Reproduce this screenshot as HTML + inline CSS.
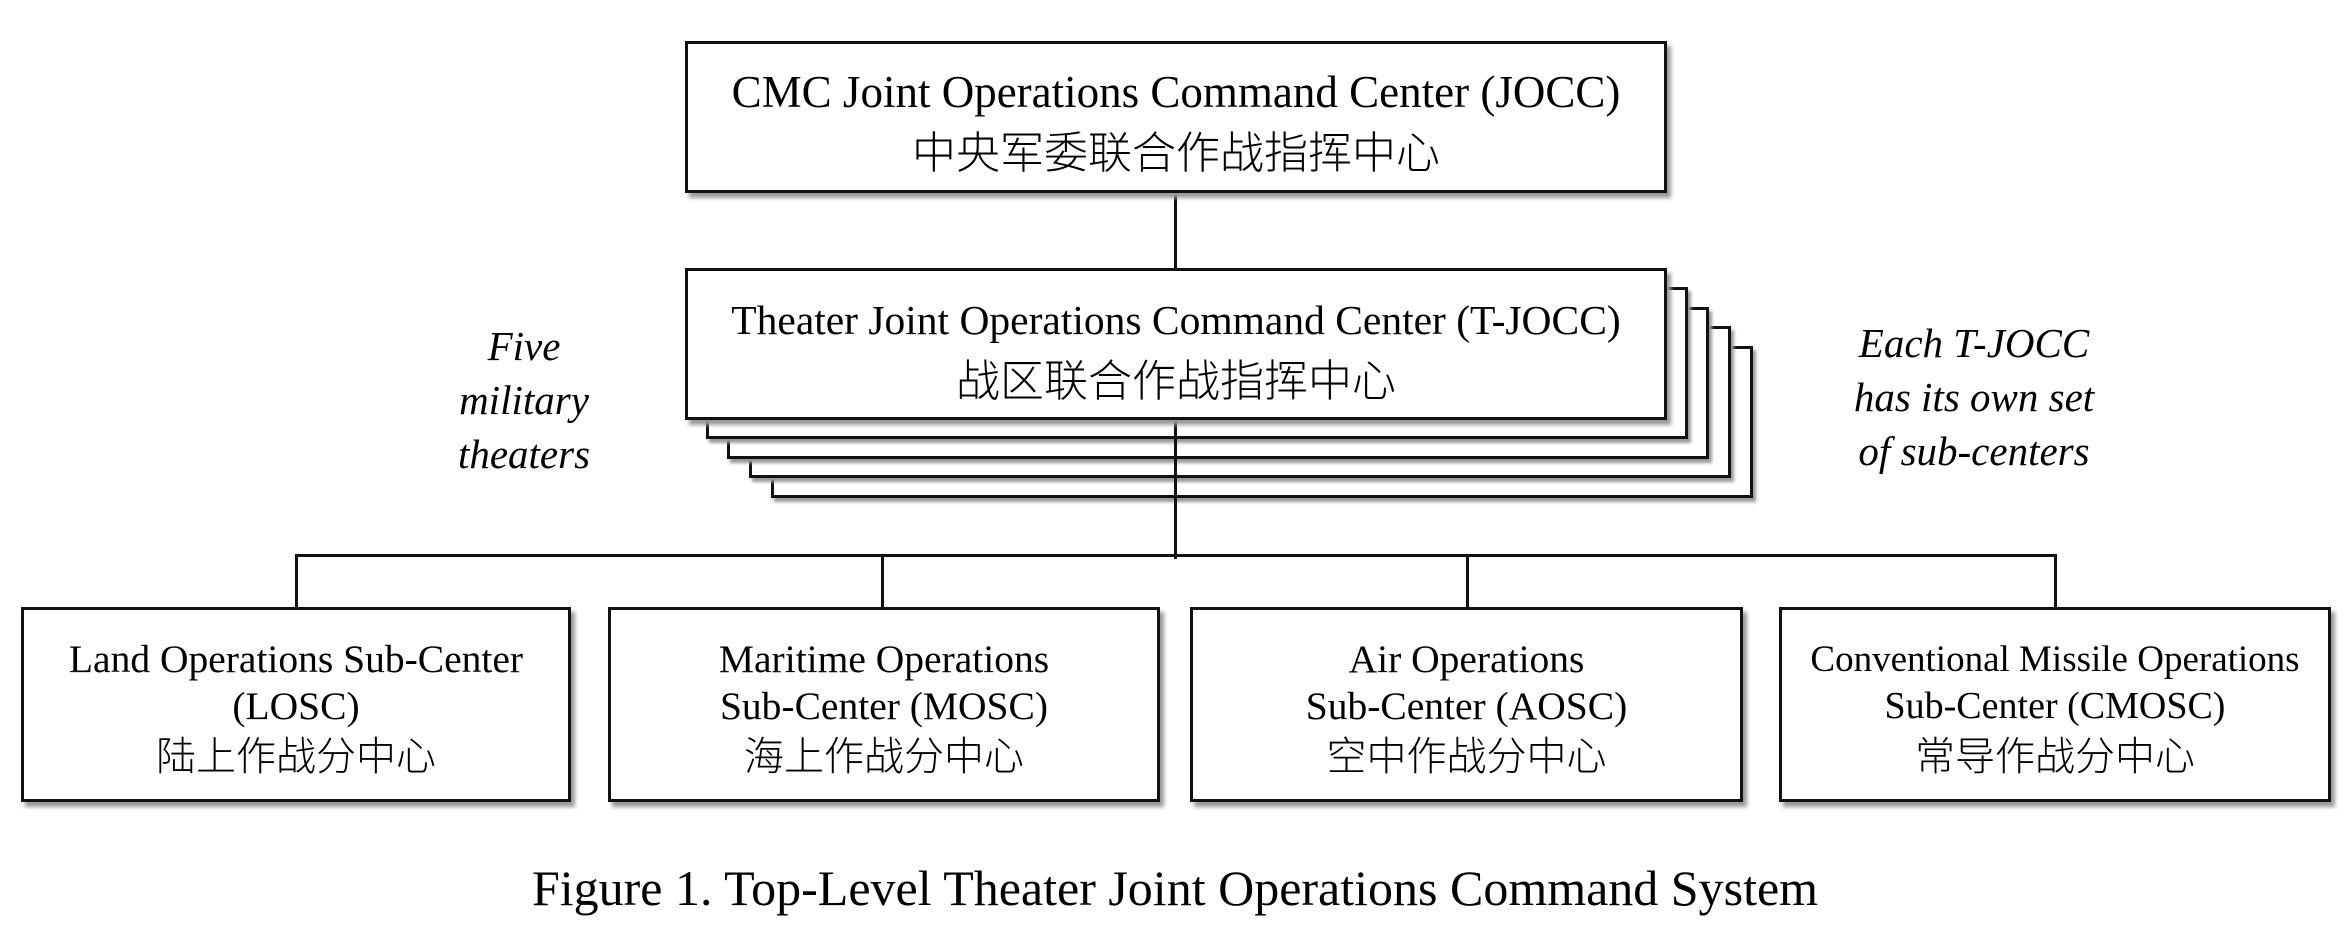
<!DOCTYPE html>
<html><head><meta charset="utf-8"><style>
body{margin:0;width:2346px;height:948px;background:#fff;position:relative;overflow:hidden;font-family:"Liberation Serif","Noto Serif CJK SC",serif;color:#000}
.b{position:absolute;box-sizing:border-box;border:3px solid #111;background:#fff;box-shadow:4px 5px 4px #999}
.t{position:absolute;text-align:center;white-space:nowrap;line-height:47px}
.l{position:absolute;background:#111}
.cj{font-family:"Noto Sans CJK SC","WenQuanYi Zen Hei",sans-serif;font-weight:300}
.i{font-style:italic;font-size:41px;line-height:54px}
</style></head><body>
<div class="l" style="left:1174px;top:190px;width:3px;height:367px"></div>
<div class="l" style="left:295px;top:554px;width:1762px;height:3px"></div>
<div class="l" style="left:295px;top:554px;width:3px;height:54px"></div>
<div class="l" style="left:881px;top:554px;width:3px;height:54px"></div>
<div class="l" style="left:1466px;top:554px;width:3px;height:54px"></div>
<div class="l" style="left:2054px;top:554px;width:3px;height:54px"></div>

<div class="b" style="left:685px;top:41px;width:982px;height:152px"></div>
<div class="t" style="left:685px;top:64px;width:982px;font-size:45px;line-height:57px">CMC Joint Operations Command Center (JOCC)<br><span class="cj" style="font-size:44px">中央军委联合作战指挥中心</span></div>

<div class="b" style="left:771px;top:346px;width:982px;height:152px;box-shadow:3px 4px 3px #999"></div>
<div class="b" style="left:749px;top:326px;width:982px;height:152px;box-shadow:3px 4px 3px #999"></div>
<div class="b" style="left:727px;top:307px;width:982px;height:152px;box-shadow:3px 4px 3px #999"></div>
<div class="b" style="left:706px;top:287px;width:982px;height:152px;box-shadow:3px 4px 3px #999"></div>
<div class="l" style="left:1174px;top:419px;width:3px;height:140px"></div>
<div class="b" style="left:685px;top:268px;width:982px;height:152px"></div>
<div class="t" style="left:685px;top:292px;width:982px;font-size:41.5px;line-height:57px">Theater Joint Operations Command Center (T-JOCC)<br><span class="cj" style="font-size:44px">战区联合作战指挥中心</span></div>

<div class="t i" style="left:374px;top:319px;width:300px">Five<br>military<br>theaters</div>
<div class="t i" style="left:1824px;top:316px;width:300px">Each T-JOCC<br>has its own set<br>of sub-centers</div>

<div class="b" style="left:21px;top:607px;width:550px;height:195px"></div>
<div class="t" style="left:21px;top:636px;width:550px;font-size:39.5px">Land Operations Sub-Center<br>(LOSC)<br><span class="cj" style="font-size:40px">陆上作战分中心</span></div>
<div class="b" style="left:608px;top:607px;width:552px;height:195px"></div>
<div class="t" style="left:608px;top:636px;width:552px;font-size:39.5px">Maritime Operations<br>Sub-Center (MOSC)<br><span class="cj" style="font-size:40px">海上作战分中心</span></div>
<div class="b" style="left:1190px;top:607px;width:553px;height:195px"></div>
<div class="t" style="left:1190px;top:636px;width:553px;font-size:39.5px">Air Operations<br>Sub-Center (AOSC)<br><span class="cj" style="font-size:40px">空中作战分中心</span></div>
<div class="b" style="left:1779px;top:607px;width:552px;height:195px"></div>
<div class="t" style="left:1779px;top:636px;width:552px;font-size:38px"><span style="font-size:37px">Conventional Missile Operations</span><br>Sub-Center (CMOSC)<br><span class="cj" style="font-size:40px">常导作战分中心</span></div>

<div class="t" style="left:0;top:858px;width:2350px;font-size:50px;line-height:60px">Figure 1. Top-Level Theater Joint Operations Command System</div>
</body></html>
